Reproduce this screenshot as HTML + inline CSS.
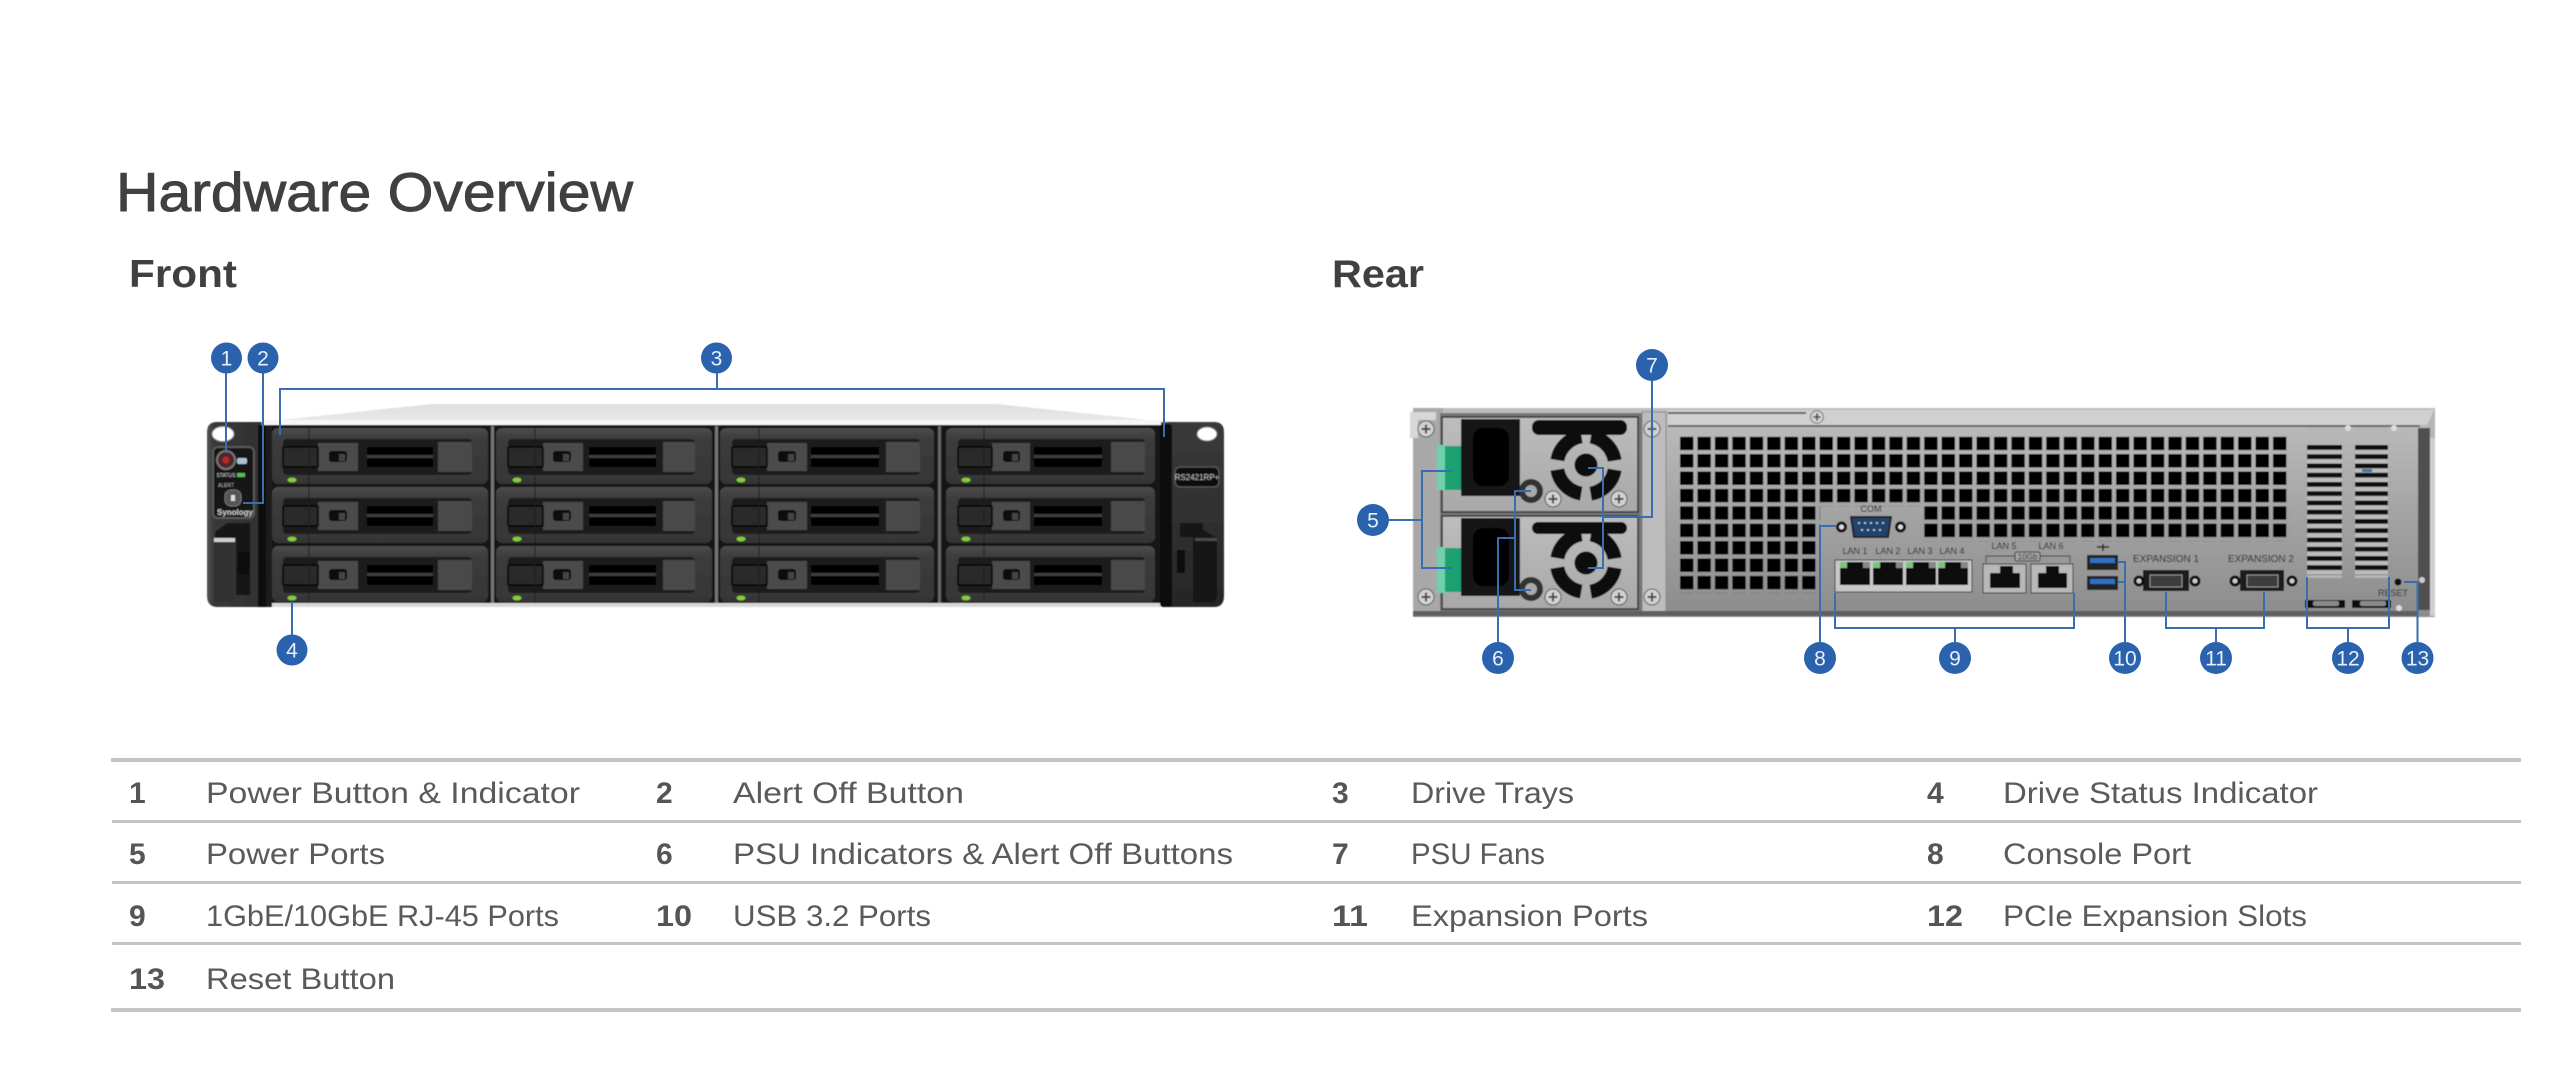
<!DOCTYPE html>
<html><head><meta charset="utf-8"><title>Hardware Overview</title>
<style>html,body{margin:0;padding:0;background:#fff}svg{display:block}
text{font-family:"Liberation Sans",Arial,sans-serif}
.n{font-size:30px;font-weight:bold;fill:#555}.l{font-size:30px;fill:#5a5a5a}
.c{font-size:21px;fill:#e8f0fa;text-anchor:middle}
.t{font-size:9px;fill:#222;text-anchor:middle}
</style></head><body>
<svg xmlns="http://www.w3.org/2000/svg" width="2560" height="1085" viewBox="0 0 2560 1085">
<defs>
<linearGradient id="tray" x1="0" y1="0" x2="0" y2="1"><stop offset="0" stop-color="#4c4c4c"/><stop offset=".2" stop-color="#3c3c3c"/><stop offset="1" stop-color="#363636"/></linearGradient>
<linearGradient id="ear" x1="0" y1="0" x2="1" y2="0"><stop offset="0" stop-color="#555"/><stop offset=".1" stop-color="#3a3a3a"/><stop offset="1" stop-color="#2e2e2e"/></linearGradient>
<linearGradient id="ear2" x1="0" y1="0" x2="0" y2="1"><stop offset="0" stop-color="#3a3a3a"/><stop offset="1" stop-color="#272727"/></linearGradient>
<linearGradient id="top" x1="0" y1="0" x2="0" y2="1"><stop offset="0" stop-color="#dedede"/><stop offset="1" stop-color="#ececec"/></linearGradient>
<linearGradient id="rear" x1="0" y1="0" x2="0" y2="1"><stop offset="0" stop-color="#bebebe"/><stop offset=".5" stop-color="#a4a4a4"/><stop offset="1" stop-color="#8c8c8c"/></linearGradient>
<linearGradient id="psu" x1="0" y1="0" x2="0" y2="1"><stop offset="0" stop-color="#bdbdbd"/><stop offset="1" stop-color="#a8a8a8"/></linearGradient>
<pattern id="holes" x="1680" y="436.7" width="17.44" height="17.4" patternUnits="userSpaceOnUse"><rect width="13.4" height="13.4" fill="#050505"/></pattern>
<pattern id="bars" x="0" y="445" width="10" height="9.25" patternUnits="userSpaceOnUse"><rect width="10" height="4.8" fill="#0e0e0e"/><rect y="4.8" width="10" height="4.45" fill="#bcbcbc"/></pattern>
<filter id="b" x="-2%" y="-2%" width="104%" height="104%"><feGaussianBlur stdDeviation="0.6"/></filter>
<g id="sc"><circle r="8" fill="#d2d2d2" stroke="#555"/><path d="M-4.5 0H4.5M0-4.5V4.5" stroke="#444" stroke-width="2"/></g>
<g id="fan"><circle r="29" fill="none" stroke="#0c0c0c" stroke-width="14" stroke-dasharray="36 9.55" stroke-dashoffset="-4.77"/><circle r="11.5" fill="#0a0a0a"/></g>
<g id="col1"><rect x="272" y="428" width="216" height="56" rx="6" fill="url(#tray)"/><rect x="283" y="439" width="189" height="36" rx="4" fill="#1f1f1f"/><rect x="318" y="443" width="40" height="28" fill="#4b4b4b"/><rect x="438" y="442" width="34" height="30" fill="#4a4a4a"/><rect x="283" y="447" width="35" height="20" rx="1" fill="#2b2b2b" stroke="#050505" stroke-width="1.5"/><rect x="329" y="451" width="18" height="11" rx="3" fill="#0c0c0c"/><rect x="339" y="454" width="6" height="7" fill="#444"/><rect x="367" y="447" width="66" height="20" fill="#050505"/><rect x="367" y="455" width="66" height="3" fill="#3c3c3c"/><ellipse cx="292" cy="480" rx="4.5" ry="2.4" fill="#86cc3f"/><path d="M309 428V484" stroke="#1c1c1c"/></g>
<g id="col2"><rect x="496" y="428" width="216" height="56" rx="6" fill="url(#tray)"/><rect x="508" y="439" width="187" height="36" rx="4" fill="#1f1f1f"/><rect x="543" y="443" width="40" height="28" fill="#4b4b4b"/><rect x="663" y="442" width="32" height="30" fill="#4a4a4a"/><rect x="508" y="447" width="35" height="20" rx="1" fill="#2b2b2b" stroke="#050505" stroke-width="1.5"/><rect x="553" y="451" width="18" height="11" rx="3" fill="#0c0c0c"/><rect x="563" y="454" width="6" height="7" fill="#444"/><rect x="589" y="447" width="67" height="20" fill="#050505"/><rect x="589" y="455" width="67" height="3" fill="#3c3c3c"/><ellipse cx="517" cy="480" rx="4.5" ry="2.4" fill="#86cc3f"/><path d="M535 428V484" stroke="#1c1c1c"/></g>
<g id="col3"><rect x="720" y="428" width="214" height="56" rx="6" fill="url(#tray)"/><rect x="732" y="439" width="188" height="36" rx="4" fill="#1f1f1f"/><rect x="767" y="443" width="40" height="28" fill="#4b4b4b"/><rect x="886" y="442" width="34" height="30" fill="#4a4a4a"/><rect x="732" y="447" width="35" height="20" rx="1" fill="#2b2b2b" stroke="#050505" stroke-width="1.5"/><rect x="778" y="451" width="18" height="11" rx="3" fill="#0c0c0c"/><rect x="788" y="454" width="6" height="7" fill="#444"/><rect x="811" y="447" width="68" height="20" fill="#050505"/><rect x="811" y="455" width="68" height="3" fill="#3c3c3c"/><ellipse cx="741" cy="480" rx="4.5" ry="2.4" fill="#86cc3f"/><path d="M759 428V484" stroke="#1c1c1c"/></g>
<g id="col4"><rect x="946" y="428" width="209" height="56" rx="6" fill="url(#tray)"/><rect x="958" y="439" width="187" height="36" rx="4" fill="#1f1f1f"/><rect x="992" y="443" width="38" height="28" fill="#4b4b4b"/><rect x="1111" y="442" width="34" height="30" fill="#4a4a4a"/><rect x="958" y="447" width="34" height="20" rx="1" fill="#2b2b2b" stroke="#050505" stroke-width="1.5"/><rect x="1003" y="451" width="17" height="11" rx="3" fill="#0c0c0c"/><rect x="1012" y="454" width="6" height="7" fill="#444"/><rect x="1034" y="447" width="68" height="20" fill="#050505"/><rect x="1034" y="455" width="68" height="3" fill="#3c3c3c"/><ellipse cx="966" cy="480" rx="4.5" ry="2.4" fill="#86cc3f"/><path d="M984 428V484" stroke="#1c1c1c"/></g>
</defs>
<rect width="2560" height="1085" fill="#fff"/>

<text x="116" y="211" font-size="55" fill="#404040" stroke="#404040" stroke-width=".9" textLength="517" lengthAdjust="spacingAndGlyphs">Hardware Overview</text>
<text x="129" y="287" font-size="39" font-weight="bold" fill="#404040" textLength="108" lengthAdjust="spacingAndGlyphs">Front</text>
<text x="1332" y="287" font-size="39" font-weight="bold" fill="#404040" textLength="92" lengthAdjust="spacingAndGlyphs">Rear</text>

<!-- FRONT UNIT -->
<g filter="url(#b)">
<path d="M270 421L433 404H996L1159 421V425H270Z" fill="url(#top)"/>
<rect x="262" y="420" width="905" height="5" fill="#f6f6f6"/>
<rect x="266" y="425" width="895" height="180" fill="#121212"/>
<rect x="266" y="603" width="895" height="4" fill="#d8d8d8"/>
<rect x="491" y="426" width="3" height="177" fill="#777"/><rect x="715" y="426" width="3" height="177" fill="#777"/><rect x="938" y="426" width="3" height="177" fill="#666"/>
<use href="#col1"/><use href="#col1" y="59"/><use href="#col1" y="118"/>
<use href="#col2"/><use href="#col2" y="59"/><use href="#col2" y="118"/>
<use href="#col3"/><use href="#col3" y="59"/><use href="#col3" y="118"/>
<use href="#col4"/><use href="#col4" y="59"/><use href="#col4" y="118"/>
<!-- left ear -->
<path d="M217 422H262V425H271V600L265 607H218Q207 607 207 596V432Q207 422 217 422Z" fill="url(#ear)"/>
<rect x="258" y="425" width="8" height="182" fill="#0a0a0a"/>
<rect x="266" y="425" width="6" height="182" fill="#1a1a1a"/>
<ellipse cx="223" cy="434" rx="11" ry="7.5" fill="#fff" stroke="#888"/>
<rect x="213" y="447" width="41" height="71" rx="5" fill="#151515" stroke="#5a5a5a" stroke-width="2"/>
<circle cx="226" cy="460" r="9" fill="#50252a" stroke="#777" stroke-width="2"/><circle cx="226" cy="460" r="3.5" fill="#b52a2a"/>
<rect x="237" y="458" width="10" height="6" rx="2" fill="#a7c2d6"/>
<rect x="237" y="473" width="8" height="4" fill="#58b85a"/>
<text x="226" y="477" font-size="5" fill="#ccc" text-anchor="middle">STATUS</text>
<text x="226" y="487" font-size="5" fill="#aaa" text-anchor="middle">ALERT</text>
<rect x="225" y="490" width="16" height="16" rx="6" fill="#555" stroke="#777"/><rect x="231" y="495" width="4" height="6" fill="#ddd"/>
<text x="235" y="515" font-size="8" font-weight="bold" fill="#ccc" text-anchor="middle">Synology</text>
<path d="M215 532L227 523H250V595H236V538H215Z" fill="#161616"/>
<rect x="214" y="542" width="21" height="60" fill="#333"/><rect x="214" y="538" width="21" height="4" fill="#cfcfcf"/>
<rect x="238" y="552" width="12" height="22" fill="#0a0a0a"/>
<!-- right ear -->
<path d="M1161 422H1214Q1224 422 1224 432V596Q1224 607 1214 607H1170Q1161 607 1161 596Z" fill="url(#ear2)"/>
<rect x="1160" y="424" width="12" height="183" rx="3" fill="#0e0e0e"/>
<ellipse cx="1207" cy="434" rx="10" ry="7" fill="#fff" stroke="#777"/>
<rect x="1175" y="467" width="44" height="20" rx="5" fill="#0a0a0a" stroke="#555" stroke-width="1.5"/>
<text x="1197" y="480" font-size="8" fill="#bbb" text-anchor="middle">RS2421RP+</text>
<rect x="1180" y="523" width="23" height="14" fill="#161616"/>
<rect x="1177" y="550" width="8" height="23" fill="#0c0c0c"/>
<path d="M1193 530H1203L1217 538V596Q1217 602 1210 602H1193Z" fill="#141414"/>
<rect x="1195" y="538" width="22" height="3" fill="#4a4a4a"/>
</g>

<!-- REAR UNIT -->
<g filter="url(#b)">
<path d="M1413 408H2435V617H1413Z" fill="url(#rear)"/>
<rect x="1668" y="410" width="767" height="15" fill="#d0d0d0"/>
<rect x="1668" y="425" width="752" height="2" fill="#666"/>
<rect x="1668" y="412" width="138" height="2" fill="#666"/>
<path d="M2427 425L2435 408V440L2427 436Z" fill="#b5b5b5"/>
<rect x="2418" y="428" width="12" height="182" fill="#505050"/>
<rect x="2430" y="438" width="5" height="178" fill="#cfcfcf"/>
<use href="#sc" transform="translate(1817 417) scale(.8)"/>
<rect x="1413" y="408" width="30" height="207" fill="#a8a8a8"/>
<path d="M1410 412H1436V420H1418V438H1410Z" fill="#d7d7d7"/>
<rect x="1642" y="412" width="24" height="200" fill="#bdbdbd" stroke="#888"/>
<rect x="1440" y="413" width="202" height="202" fill="#777"/>
<rect x="1442" y="417" width="196" height="95" fill="url(#psu)" stroke="#333" stroke-width="1.5"/>
<rect x="1442" y="516" width="196" height="93" fill="url(#psu)" stroke="#333" stroke-width="1.5"/>
<rect x="1413" y="611" width="1005" height="5" fill="#5f5f5f"/>
<!-- psu parts -->
<rect x="1461" y="419" width="59" height="77" fill="#141414"/><rect x="1473" y="428" width="36" height="58" rx="10" fill="#060606"/>
<rect x="1461" y="518" width="59" height="78" fill="#141414"/><rect x="1473" y="528" width="36" height="58" rx="10" fill="#060606"/>
<rect x="1437" y="445" width="8" height="45" fill="#6fd0ae"/><rect x="1445" y="446" width="16" height="44" fill="#1fa06f"/>
<rect x="1437" y="547" width="8" height="46" fill="#6fd0ae"/><rect x="1445" y="548" width="16" height="44" fill="#1fa06f"/>
<rect x="1532" y="420" width="95" height="15" rx="7" fill="#111"/><rect x="1532" y="522" width="95" height="12" rx="6" fill="#111"/>
<use href="#fan" x="1586" y="465"/><use href="#fan" x="1586" y="563"/>
<circle cx="1531" cy="491" r="12" fill="#333"/><circle cx="1531" cy="491" r="6" fill="#a9a9a9"/>
<circle cx="1531" cy="589" r="12" fill="#333"/><circle cx="1531" cy="589" r="6" fill="#a9a9a9"/>
<use href="#sc" x="1426" y="429"/><use href="#sc" x="1426" y="597"/><use href="#sc" x="1553" y="499"/><use href="#sc" x="1619" y="499"/><use href="#sc" x="1553" y="597"/><use href="#sc" x="1619" y="597"/><use href="#sc" x="1652" y="429"/><use href="#sc" x="1652" y="597"/>
<!-- vents -->
<rect x="1680" y="436.7" width="610" height="69.6" fill="url(#holes)"/>
<rect x="1680" y="506.3" width="140" height="87" fill="url(#holes)"/>
<rect x="1924.2" y="506.3" width="366" height="34.8" fill="url(#holes)"/>
<!-- com -->
<circle cx="1841.5" cy="527" r="4" fill="#ddd" stroke="#111" stroke-width="3"/><circle cx="1900.5" cy="527" r="4" fill="#ddd" stroke="#111" stroke-width="3"/>
<path d="M1851 517H1891L1888 537H1854Z" fill="#20426f" stroke="#222" stroke-width="2"/>
<path d="M1858 523H1885M1861 530H1882" stroke="#ddd" stroke-width="1.5" stroke-dasharray="2 4"/>
<text x="1871" y="512" class="t">COM</text>
<!-- LAN 1-4 -->
<rect x="1835" y="560" width="137" height="32" fill="#c8c8c8" stroke="#333"/>
<rect x="1840" y="562" width="30" height="23" fill="#0e0e0e"/><rect x="1873" y="562" width="30" height="23" fill="#0e0e0e"/><rect x="1906" y="562" width="30" height="23" fill="#0e0e0e"/><rect x="1938" y="562" width="30" height="23" fill="#0e0e0e"/>
<g fill="#7cc47a"><rect x="1840" y="562" width="7" height="6"/><rect x="1873" y="562" width="7" height="6"/><rect x="1906" y="562" width="7" height="6"/><rect x="1938" y="562" width="7" height="6"/></g>
<g fill="#888"><rect x="1863" y="562" width="7" height="6"/><rect x="1896" y="562" width="7" height="6"/><rect x="1929" y="562" width="7" height="6"/><rect x="1961" y="562" width="7" height="6"/></g>
<text x="1855" y="554" class="t">LAN 1</text><text x="1888" y="554" class="t">LAN 2</text><text x="1920" y="554" class="t">LAN 3</text><text x="1952" y="554" class="t">LAN 4</text>
<!-- LAN 5-6 -->
<rect x="1983" y="564" width="43" height="29" fill="#b8b8b8" stroke="#333"/><rect x="2031" y="564" width="42" height="29" fill="#b8b8b8" stroke="#333"/>
<path d="M1990 588V573H2000V566H2013V573H2020V588Z" fill="#0a0a0a"/><path d="M2038 588V573H2046V566H2059V573H2067V588Z" fill="#0a0a0a"/>
<text x="2004" y="549" class="t">LAN 5</text><text x="2051" y="549" class="t">LAN 6</text>
<path d="M1986 563V556H2070V563" fill="none" stroke="#333"/><rect x="2015" y="552" width="25" height="9" rx="2" fill="#a4a4a4" stroke="#333"/>
<text x="2027.5" y="559.5" font-size="8" fill="#222" text-anchor="middle">10Gb</text>
<!-- USB -->
<path d="M2097 547H2109M2103 544V551" stroke="#222" stroke-width="1.5"/>
<rect x="2087" y="555" width="31" height="15" fill="#222"/><rect x="2090" y="558" width="25" height="5" fill="#2f6fc4"/>
<rect x="2087" y="576" width="31" height="14" fill="#222"/><rect x="2090" y="579" width="25" height="5" fill="#2f6fc4"/>
<!-- expansion -->
<rect x="2143" y="570" width="46" height="21" fill="#1c1c1c"/><rect x="2150" y="575" width="32" height="12" fill="#3c3c3c" stroke="#aaa" stroke-width=".8"/>
<rect x="2240" y="570" width="44" height="21" fill="#1c1c1c"/><rect x="2247" y="575" width="31" height="12" fill="#3c3c3c" stroke="#aaa" stroke-width=".8"/>
<circle cx="2139" cy="581" r="4" fill="#ccc" stroke="#111" stroke-width="3"/><circle cx="2195" cy="581" r="4" fill="#ccc" stroke="#111" stroke-width="3"/><circle cx="2235" cy="581" r="4" fill="#ccc" stroke="#111" stroke-width="3"/><circle cx="2292" cy="581" r="4" fill="#ccc" stroke="#111" stroke-width="3"/>
<text x="2166" y="562" class="t" style="font-size:10px">EXPANSION 1</text><text x="2261" y="562" class="t" style="font-size:10px">EXPANSION 2</text>
<!-- pcie -->
<rect x="2307" y="427" width="35" height="151" fill="#b6b6b6"/><rect x="2355" y="427" width="33" height="151" fill="#b6b6b6"/>
<rect x="2307" y="445" width="35" height="130" fill="url(#bars)"/><rect x="2355" y="445" width="33" height="130" fill="url(#bars)"/>
<rect x="2362" y="469" width="10" height="3" fill="#3a6db0"/>
<rect x="2305" y="600" width="40" height="8" fill="#111"/><rect x="2352" y="600" width="39" height="8" fill="#111"/>
<rect x="2313" y="601" width="26" height="5" rx="2" fill="#8a8a8a"/><rect x="2360" y="601" width="26" height="5" rx="2" fill="#8a8a8a"/>
<circle cx="2348" cy="428" r="3" fill="#ddd"/><circle cx="2394" cy="428" r="3" fill="#ddd"/><circle cx="2422" cy="580" r="3" fill="#ccc"/><circle cx="2399" cy="608" r="3" fill="#ddd"/>
<circle cx="2398" cy="582" r="3.5" fill="#0a0a0a"/>
<text x="2393" y="596" font-size="9" fill="#222" text-anchor="middle">RESET</text>
</g>

<!-- CONNECTORS -->
<g fill="none" stroke="#3a6db0" stroke-width="2">
<path d="M226 373V453"/><path d="M263 373V503H243"/>
<path d="M280 435V389H1164V437M717 373V389"/><path d="M292 602V635"/>
<path d="M1652 381V517H1603M1588 468H1603V568H1588"/>
<path d="M1389 520H1422M1452 471H1422V568H1452"/>
<path d="M1498 642V538H1515M1531 491H1515V590H1531"/>
<path d="M1820 642V526H1836"/>
<path d="M1835 593V628H2074V593M1955 628V642"/>
<path d="M2118 562H2125V642M2118 582H2125"/>
<path d="M2166 592V628H2264V592M2216 628V642"/>
<path d="M2307 577V628H2389V577M2348 628V642"/>
<path d="M2417.5 642V582H2404"/>
</g>
<g fill="#2b62ad">
<circle cx="226.500" cy="358" r="15.500"/><circle cx="263" cy="358" r="15.500"/><circle cx="716.500" cy="358" r="15.500"/><circle cx="292" cy="650" r="15.500"/>
<circle cx="1652" cy="365" r="16"/><circle cx="1373" cy="520" r="16"/><circle cx="1498" cy="658" r="16"/><circle cx="1820" cy="658" r="16"/><circle cx="1955" cy="658" r="16"/><circle cx="2125" cy="658" r="16"/><circle cx="2216" cy="658" r="16"/><circle cx="2348" cy="658" r="16"/><circle cx="2417.500" cy="658" r="16"/>
</g>
<text class="c" x="226.500" y="365.500">1</text><text class="c" x="263" y="365.500">2</text><text class="c" x="716.500" y="365.500">3</text><text class="c" x="292" y="657.500">4</text>
<text class="c" x="1373" y="527.500">5</text><text class="c" x="1498" y="665.500">6</text><text class="c" x="1652" y="372.500">7</text><text class="c" x="1820" y="665.500">8</text><text class="c" x="1955" y="665.500">9</text><text class="c" x="2125" y="665.500">10</text><text class="c" x="2216" y="665.500">11</text><text class="c" x="2348" y="665.500">12</text><text class="c" x="2417.500" y="665.500">13</text>

<!-- TABLE -->
<g fill="#c4c4c4">
<rect x="111" y="758" width="2410" height="4"/><rect x="112" y="820" width="2409" height="3"/><rect x="112" y="881" width="2409" height="3"/><rect x="112" y="942" width="2409" height="3"/><rect x="111" y="1008" width="2410" height="4"/>
</g>
<text class="n" x="129" y="803">1</text><text class="l" x="206" y="803" textLength="374" lengthAdjust="spacingAndGlyphs">Power Button &amp; Indicator</text>
<text class="n" x="656" y="803">2</text><text class="l" x="733" y="803" textLength="231" lengthAdjust="spacingAndGlyphs">Alert Off Button</text>
<text class="n" x="1332" y="803">3</text><text class="l" x="1411" y="803" textLength="163" lengthAdjust="spacingAndGlyphs">Drive Trays</text>
<text class="n" x="1927" y="803">4</text><text class="l" x="2003" y="803" textLength="315" lengthAdjust="spacingAndGlyphs">Drive Status Indicator</text>
<text class="n" x="129" y="864">5</text><text class="l" x="206" y="864" textLength="179" lengthAdjust="spacingAndGlyphs">Power Ports</text>
<text class="n" x="656" y="864">6</text><text class="l" x="733" y="864" textLength="500" lengthAdjust="spacingAndGlyphs">PSU Indicators &amp; Alert Off Buttons</text>
<text class="n" x="1332" y="864">7</text><text class="l" x="1411" y="864" textLength="134" lengthAdjust="spacingAndGlyphs">PSU Fans</text>
<text class="n" x="1927" y="864">8</text><text class="l" x="2003" y="864" textLength="188" lengthAdjust="spacingAndGlyphs">Console Port</text>
<text class="n" x="129" y="926">9</text><text class="l" x="206" y="926" textLength="353" lengthAdjust="spacingAndGlyphs">1GbE/10GbE RJ-45 Ports</text>
<text class="n" x="656" y="926" textLength="36" lengthAdjust="spacingAndGlyphs">10</text><text class="l" x="733" y="926" textLength="198" lengthAdjust="spacingAndGlyphs">USB 3.2 Ports</text>
<text class="n" x="1332" y="926" textLength="36" lengthAdjust="spacingAndGlyphs">11</text><text class="l" x="1411" y="926" textLength="237" lengthAdjust="spacingAndGlyphs">Expansion Ports</text>
<text class="n" x="1927" y="926" textLength="36" lengthAdjust="spacingAndGlyphs">12</text><text class="l" x="2003" y="926" textLength="304" lengthAdjust="spacingAndGlyphs">PCIe Expansion Slots</text>
<text class="n" x="129" y="989" textLength="36" lengthAdjust="spacingAndGlyphs">13</text><text class="l" x="206" y="989" textLength="189" lengthAdjust="spacingAndGlyphs">Reset Button</text>
</svg>
</body></html>
